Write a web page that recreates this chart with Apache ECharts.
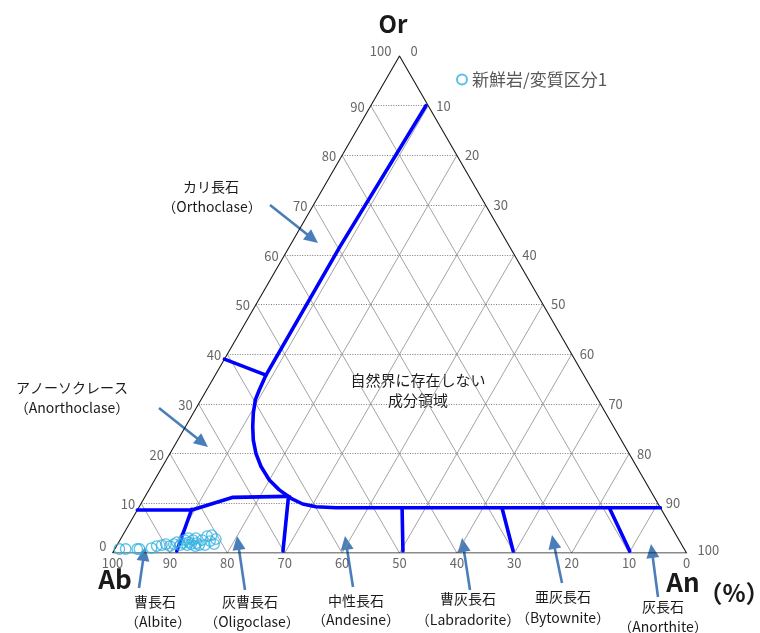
<!DOCTYPE html>
<html>
<head>
<meta charset="utf-8">
<script src="https://cdn.jsdelivr.net/npm/echarts@6/dist/echarts.min.js"></script>
<style>html,body{margin:0;background:#fff}#main{width:760px;height:633px}</style>
</head>
<body>
<div id="main"></div>
<script>
// 三角図: Or (上), Ab (左下), An (右下)  -- 値は % で持つ
const gridTicks = [10, 20, 30, 40, 50, 60, 70, 80, 90];
const edgeLabels = [0, 10, 20, 30, 40, 50, 60, 70, 80, 90, 100];

// 試料 (Or %, An %)
const sampleOr = [0.8, 0.8, 0.8, 0.8, 1.0, 1.4, 1.6, 1.8, 1.4, 1.8, 2.2, 1.6, 2.0, 2.6, 1.6, 2.2, 1.8, 2.6, 1.4, 2.0, 1.6, 2.6, 1.6, 3.4, 2.4, 3.6, 1.8, 2.8, 3.0, 3.0];
const sampleAn = [0.8, 1.9, 3.9, 4.3, 6.3, 7.0, 7.8, 8.4, 9.3, 9.8, 10.1, 11.0, 11.3, 11.3, 12.2, 12.2, 12.8, 12.7, 13.7, 13.7, 14.3, 14.3, 15.3, 14.8, 15.8, 15.5, 16.8, 16.6, 13.0, 11.7];

// 境界線 [Or, An]
const mainBoundary = [[90, 9.6], [61.6, 8.8], [35.8, 8.84], [32.8, 9.17], [30.8, 9.48], [28.1, 10.48], [25.4, 11.73], [22.7, 13.18], [20.0, 15.0], [17.4, 17.17], [14.7, 19.97], [12.7, 22.7], [11.0, 25.6], [9.86, 28.2], [9.3, 30.8], [9.1, 34.35], [9.1, 90.9]];
const tieOr40 = [[39.0, 0], [35.8, 8.84]];
const lowerBoundary = [[8.65, 0], [8.65, 9.5], [11.2, 15.4], [11.4, 24.65], [11.3, 25.2]];
const plagDividers = [
  [[8.8, 9.4], [0.4, 11.0]],
  [[11.3, 25.0], [0.4, 29.5]],
  [[9.1, 45.9], [0.4, 50.4]],
  [[9.1, 63.3], [0.4, 69.6]],
  [[9.1, 82.0], [0.4, 89.9]]
];

const tern = (or, an) => [an + or / 2, or];

const chart = echarts.init(document.getElementById('main'));

const hLines = gridTicks.map(v => ({ coords: [tern(v, 0), tern(v, 100 - v)] }));
const dLines = [];
gridTicks.forEach(v => {
  dLines.push({ coords: [tern(0, v), tern(100 - v, v)] });          // An 一定
  dLines.push({ coords: [tern(0, 100 - v), tern(100 - v, 0)] });    // Ab 一定
});
const edges = [{ coords: [tern(0, 0), tern(0, 100), tern(100, 0), tern(0, 0)] }];

const blueLines = [mainBoundary, tieOr40, lowerBoundary, ...plagDividers]
  .map(pts => ({ coords: pts.map(p => tern(p[0], p[1])) }));

const labelFont = { fontSize: 13, color: '#404040', fontFamily: 'Noto Sans CJK JP' };
const orLabels = edgeLabels.map(v => ({
  value: tern(v, 0),
  label: { position: 'left', distance: v === 100 ? 8 : 6, offset: (v === 0 ? [0, -7] : v === 100 ? [0, -5] : [0, 1]), formatter: String(v) }
}));
const anLabels = edgeLabels.map(v => ({
  value: tern(100 - v, v),
  label: { position: 'right', distance: v === 0 || v === 100 ? 11 : 8, offset: (v === 0 ? [0, -5] : v === 100 ? [0, -3] : [0, 0]), formatter: String(v) }
}));
const abLabels = edgeLabels.map(v => ({
  value: tern(0, 100 - v),
  label: { position: 'bottom', distance: 4, formatter: String(v) }
}));

const ARROW = '#4A7EBB';
function arrow(x1, y1, x2, y2) {
  const dx = x2 - x1, dy = y2 - y1, L = Math.hypot(dx, dy);
  const ux = dx / L, uy = dy / L, hl = 14, hw = 6.5;
  const bx = x2 - ux * hl, by = y2 - uy * hl;
  return [
    { type: 'line', shape: { x1, y1, x2: bx + ux * 2, y2: by + uy * 2 }, style: { stroke: ARROW, lineWidth: 2.6 } },
    { type: 'polygon', shape: { points: [[x2, y2], [bx - uy * hw, by + ux * hw], [bx + uy * hw, by - ux * hw]] }, style: { fill: ARROW } }
  ];
}
function txt(x, y, text, size, weight) {
  return {
    type: 'text', x, y,
    style: { text, fontSize: size || 14, fontWeight: weight || 'normal', fontFamily: 'Noto Sans CJK JP', fill: '#1a1a1a', align: 'center', verticalAlign: 'middle' }
  };
}

const graphics = [
  txt(393, 24, 'Or', 24, 'bold'),
  txt(115, 579, 'Ab', 26, 'bold'),
  txt(683, 582, 'An', 26, 'bold'),
  txt(734, 593, '（%）', 24, 'bold'),
  txt(211, 187, 'カリ長石'), txt(212, 207, '（Orthoclase）'),
  txt(72, 388, 'アノーソクレース'), txt(72, 408, '（Anorthoclase）'),
  txt(418, 380, '自然界に存在しない', 15), txt(418, 400, '成分領域', 15),
  txt(155, 602, '曹長石'), txt(158, 622, '（Albite）'),
  txt(250, 602, '灰曹長石'), txt(252, 622, '（Oligoclase）'),
  txt(356, 601, '中性長石'), txt(356, 620, '（Andesine）'),
  txt(468, 599, '曹灰長石'), txt(468, 620, '（Labradorite）'),
  txt(563, 597, '亜灰長石'), txt(563, 618, '（Bytownite）'),
  txt(663, 607, '灰長石'), txt(663, 627, '（Anorthite）'),
  ...arrow(270, 205, 318, 243),
  ...arrow(159, 408, 208, 447),
  ...arrow(139, 588, 145, 547),
  ...arrow(245, 590, 237, 536),
  ...arrow(353, 587, 345, 536),
  ...arrow(470, 590, 462, 538),
  ...arrow(562, 583, 552, 535),
  ...arrow(658, 597, 651, 544)
];

chart.setOption({
  animation: false,
  grid: { left: 112.5, top: 56, width: 574, height: 497 },
  xAxis: { type: 'value', min: 0, max: 100, show: false },
  yAxis: { type: 'value', min: 0, max: 100, show: false },
  legend: {
    left: 451, top: 66, itemWidth: 10, itemHeight: 10,
    data: [{ name: '新鮮岩/変質区分1', icon: 'circle' }],
    textStyle: { fontSize: 17, color: '#595959', fontFamily: 'Noto Sans CJK JP' }
  },
  graphic: graphics,
  series: [
    { type: 'lines', coordinateSystem: 'cartesian2d', silent: true, z: 1, data: hLines,
      lineStyle: { color: '#7a7a7a', width: 1, type: [1, 1.5], opacity: 1 } },
    { type: 'lines', coordinateSystem: 'cartesian2d', silent: true, z: 1, data: dLines,
      lineStyle: { color: '#8c8c8c', width: 0.8, opacity: 1 } },
    { type: 'lines', coordinateSystem: 'cartesian2d', polyline: true, silent: true, z: 2, data: edges,
      lineStyle: { color: '#1a1a1a', width: 1.1, opacity: 1 } },
    { type: 'lines', coordinateSystem: 'cartesian2d', polyline: true, silent: true, z: 3, data: blueLines,
      lineStyle: { color: '#0000ff', width: 3.6, opacity: 1, cap: 'round', join: 'round' } },
    { name: '新鮮岩/変質区分1', type: 'scatter', z: 4, symbol: 'circle', symbolSize: 10.5,
      itemStyle: { color: 'rgba(255,255,255,0)', borderColor: '#2fb0e0', borderWidth: 1.3 },
      data: sampleOr.map((or, i) => tern(or, sampleAn[i])) },
    { type: 'scatter', silent: true, symbolSize: 0, z: 5, data: orLabels, label: { show: true, ...labelFont } },
    { type: 'scatter', silent: true, symbolSize: 0, z: 5, data: anLabels, label: { show: true, ...labelFont } },
    { type: 'scatter', silent: true, symbolSize: 0, z: 5, data: abLabels, label: { show: true, ...labelFont } }
  ]
});
</script>
</body>
</html>
